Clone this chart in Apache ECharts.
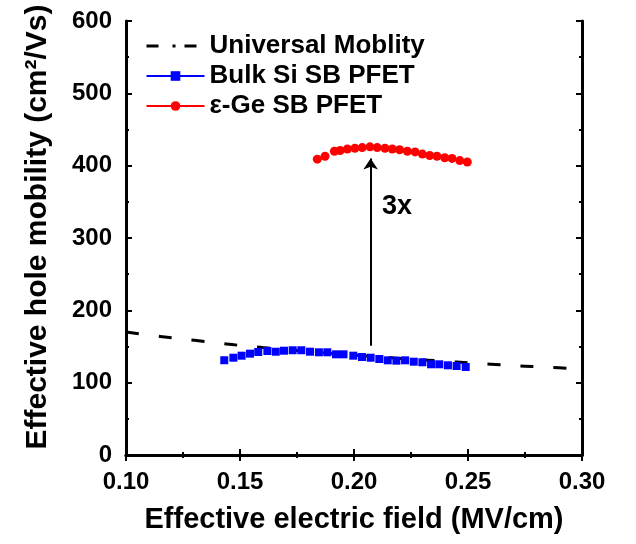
<!DOCTYPE html>
<html>
<head>
    <meta charset="utf-8">
    <title>Effective hole mobility</title>
    <script type="text/javascript" src="https://cdn.jsdelivr.net/npm/echarts@6/dist/echarts.min.js"></script>
    <style>
        body { margin: 0; background: #fff; }
        #chart { width: 636px; height: 544px; }
    </style>
</head>
<body>
    <div id="chart"></div>

    <script type="text/javascript">
        // values
        var univField = [0.10, 0.11, 0.12, 0.13, 0.14, 0.15, 0.16, 0.17, 0.18, 0.19, 0.20,
                         0.21, 0.22, 0.23, 0.24, 0.25, 0.26, 0.27, 0.28, 0.29, 0.30];
        var univMob = [170, 166, 162, 158.5, 155, 151.5, 148.5, 146, 143, 140.5, 138,
                       136, 133.5, 131.5, 129.5, 127.5, 125.5, 123.5, 122, 120.5, 119];

        var siField = [0.1431, 0.1471, 0.1507, 0.1544, 0.1580, 0.1620, 0.1657, 0.1693, 0.1731, 0.1769,
                       0.1807, 0.1846, 0.1883, 0.1921, 0.1954, 0.1997, 0.2035, 0.2073, 0.2111, 0.2148,
                       0.2186, 0.2224, 0.2262, 0.2300, 0.2338, 0.2374, 0.2412, 0.2450, 0.2490];
        var siMob = [131, 134.5, 137.3, 140.1, 142.4, 143.8, 142.8, 144.2, 144.8, 144.8,
                     142.8, 142, 142, 139.2, 139.2, 137.3, 135.5, 134.5, 132.7, 130.9,
                     130.4, 130.9, 129, 128.2, 125.4, 125.4, 124, 123, 121.7];

        var geField = [0.1839, 0.1873, 0.1914, 0.1939, 0.1971, 0.2004, 0.2036, 0.2070, 0.2102, 0.2136,
                       0.2168, 0.2200, 0.2234, 0.2268, 0.2300, 0.2332, 0.2364, 0.2398, 0.2430, 0.2464, 0.2497];
        var geMob = [409, 413, 420, 421, 423, 424, 425, 426, 425, 424,
                     423, 422, 420, 419, 416, 414, 413, 411, 410, 407, 405];

        var arrowX = 0.2073;
        var arrowFrom = 151;
        var arrowTo = 410;
        var labelPos = [0.2189, 343];

        function pairs(xs, ys) {
            var out = [];
            for (var i = 0; i < xs.length; i++) out.push([xs[i], ys[i]]);
            return out;
        }

        var font = '"Liberation Sans", Arial, sans-serif';
        var myChart = echarts.init(document.getElementById('chart'));

        var frameAxis = {
            axisLine: { show: true, lineStyle: { color: '#000', width: 3 } },
            axisTick: { show: true, inside: true, length: 6, lineStyle: { color: '#000', width: 2 } },
            minorTick: { show: true, splitNumber: 2, length: 3, lineStyle: { color: '#000', width: 2 } },
            splitLine: { show: false },
            axisLabel: { show: false }
        };

        myChart.setOption({
            animation: false,
            grid: { left: 126, right: 54, top: 21, bottom: 89 },
            legend: {
                orient: 'vertical',
                left: 140, top: 28,
                itemWidth: 58, itemHeight: 12, itemGap: 4,
                textStyle: { fontFamily: font, fontWeight: 'bold', fontSize: 26, color: '#000' },
                data: [
                    { name: 'Universal Moblity', itemStyle: { opacity: 0 }, lineStyle: { type: [12, 14, 3, 9], width: 3 } },
                    { name: 'Bulk Si SB PFET', lineStyle: { opacity: 1, width: 2 } },
                    { name: 'ε-Ge SB PFET', lineStyle: { opacity: 1, width: 2 } }
                ]
            },
            xAxis: [
                Object.assign({}, frameAxis, {
                    type: 'value', min: 0.1, max: 0.3, interval: 0.05,
                    name: 'Effective electric field (MV/cm)',
                    nameLocation: 'middle', nameGap: 50,
                    nameTextStyle: { fontFamily: font, fontWeight: 'bold', fontSize: 29, color: '#000' },
                    axisLabel: {
                        show: true, margin: 15, color: '#000',
                        fontFamily: font, fontWeight: 'bold', fontSize: 24,
                        formatter: function (v) { return v.toFixed(2); }
                    }
                }),
                Object.assign({}, frameAxis, {
                    type: 'value', position: 'top', min: 0.1, max: 0.3, interval: 0.05
                })
            ],
            yAxis: [
                Object.assign({}, frameAxis, {
                    type: 'value', min: 0, max: 600, interval: 100,
                    name: 'Effective hole mobility (cm²/Vs)',
                    nameLocation: 'middle', nameGap: 73,
                    nameTextStyle: { fontFamily: font, fontWeight: 'bold', fontSize: 30, color: '#000', padding: [0, 0, 0, 22] },
                    axisLabel: {
                        show: true, margin: 14, color: '#000',
                        fontFamily: font, fontWeight: 'bold', fontSize: 24
                    }
                }),
                Object.assign({}, frameAxis, {
                    type: 'value', position: 'right', min: 0, max: 600, interval: 100
                })
            ],
            series: [
                {
                    name: 'Universal Moblity', type: 'line',
                    data: pairs(univField, univMob),
                    showSymbol: false, symbol: 'none', smooth: true,
                    itemStyle: { color: '#000' },
                    lineStyle: { color: '#000', width: 3, type: [13, 20] },
                    z: 1
                },
                {
                    name: 'Bulk Si SB PFET', type: 'line',
                    data: pairs(siField, siMob),
                    symbol: 'rect', symbolSize: 8,
                    itemStyle: { color: '#0000ff' },
                    lineStyle: { color: '#0000ff', width: 2, opacity: 0 },
                    z: 3,
                    markLine: {
                        silent: true,
                        symbol: ['none', 'arrow'],
                        symbolSize: 11,
                        label: { show: false },
                        lineStyle: { color: '#000', width: 2, type: 'solid' },
                        data: [[{ coord: [arrowX, arrowFrom] }, { coord: [arrowX, arrowTo] }]]
                    },
                    markPoint: {
                        silent: true,
                        symbol: 'circle', symbolSize: 0,
                        label: {
                            show: true, position: 'inside', formatter: '3x', color: '#000',
                            fontFamily: font, fontWeight: 'bold', fontSize: 27
                        },
                        data: [{ coord: labelPos }]
                    }
                },
                {
                    name: 'ε-Ge SB PFET', type: 'line',
                    data: pairs(geField, geMob),
                    symbol: 'circle', symbolSize: 9,
                    itemStyle: { color: '#ff0000' },
                    lineStyle: { color: '#ff0000', width: 2, opacity: 0 },
                    z: 3
                }
            ]
        });
    </script>
</body>
</html>
